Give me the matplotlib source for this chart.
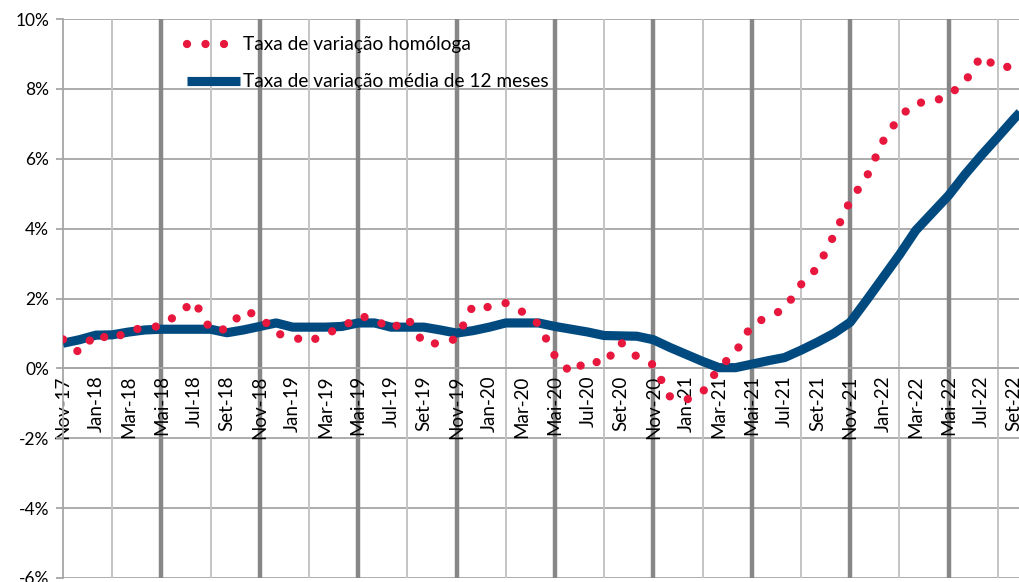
import numpy as np
import matplotlib
matplotlib.use("Agg")
import matplotlib.pyplot as plt

# Dados (%), mensais de Nov-17 a Out-22
meses_pt = ["Jan", "Fev", "Mar", "Abr", "Mai", "Jun",
            "Jul", "Ago", "Set", "Out", "Nov", "Dez"]
inicio_ano, inicio_mes = 2017, 11

homologa = [0.83, 0.45, 1.00, 0.80, 1.10, 1.15, 1.22, 1.55, 1.93, 1.10,
            1.12, 1.65, 1.50, 1.00, 0.90, 0.75, 1.00, 1.15, 1.50, 1.42,
            1.10, 1.45, 0.70, 0.72, 0.85, 1.80, 1.75, 1.87, 1.62, 1.27,
            0.35, -0.14, 0.25, 0.12, 0.75, 0.33, 0.10, -0.80, -0.90, -0.68,
            0.02, 0.45, 1.25, 1.48, 1.70, 2.40, 2.88, 3.80, 4.80, 5.48,
            6.50, 7.20, 7.60, 7.62, 7.82, 8.20, 8.95, 8.60, 8.65, 8.70]

media12 = [0.72, 0.82, 0.95, 0.96, 1.04, 1.10, 1.12, 1.12, 1.12, 1.12,
           1.02, 1.10, 1.20, 1.30, 1.18, 1.18, 1.18, 1.20, 1.30, 1.30,
           1.18, 1.18, 1.18, 1.10, 1.01, 1.08, 1.18, 1.30, 1.30, 1.30,
           1.20, 1.12, 1.04, 0.94, 0.93, 0.92, 0.82, 0.60, 0.40, 0.20,
           0.02, 0.02, 0.12, 0.22, 0.31, 0.52, 0.75, 1.00, 1.32, 1.95,
           2.60, 3.25, 3.95, 4.45, 4.95, 5.55, 6.10, 6.62, 7.15, 7.65]

n = len(homologa)
rotulos = []
for k in range(n):
    m = (inicio_mes - 1 + k) % 12
    a = inicio_ano + (inicio_mes - 1 + k) // 12
    rotulos.append(f"{meses_pt[m]}-{a % 100:02d}")
x = np.arange(n)

plt.rcParams['font.family'] = ['Lato', 'DejaVu Sans']

fig = plt.figure(figsize=(10.19, 5.82), dpi=100)
ax = fig.add_axes([63/1019, 4/582, 1 - 63/1019, 559/582])

vermelho = '#E8173D'
azul = '#004A80'

# grelha
for v in np.arange(-6, 11, 2):
    ax.axhline(v, color='#A6A6A6', lw=1.3, zorder=1)
for k in range(3, 60, 3):
    if k % 6 == 0:
        ax.axvline(k, color='#878787', lw=3.2, zorder=1)
    else:
        ax.axvline(k, color='#C4C4C4', lw=1.4, zorder=1)

ax.plot(x, media12, color=azul, lw=6.6, solid_joinstyle='round',
        solid_capstyle='butt', zorder=3,
        label='Taxa de variação média de 12 meses')
ax.plot(x, homologa, color=vermelho, lw=6.0, linestyle=(0, (0.001, 2.22)),
        dash_capstyle='round', zorder=4,
        label='Taxa de variação homóloga')

ax.set_xlim(0, (1019 - 63) / 16.4)
ax.set_ylim(-6, 10)

for s in ['top', 'right']:
    ax.spines[s].set_visible(False)
ax.spines['left'].set_color('#A6A6A6')
ax.spines['left'].set_linewidth(1.3)
ax.spines['bottom'].set_position(('data', 0))
ax.spines['bottom'].set_color('#A6A6A6')
ax.spines['bottom'].set_linewidth(1.3)

ax.set_yticks(np.arange(-6, 11, 2))
ax.set_yticklabels([f"{v:d}%" for v in range(-6, 11, 2)], fontsize=12.5)
ax.tick_params(axis='y', length=5, color='#A6A6A6', width=1.3, pad=5)

ax.set_xticks(x[::2])
ax.set_xticklabels(rotulos[::2], rotation=90, fontsize=13.5, va='top', ha='center')
ax.tick_params(axis='x', length=0, pad=5)

h, l = ax.get_legend_handles_labels()
leg = ax.legend([h[1], h[0]], [l[1], l[0]], loc='upper left',
                bbox_to_anchor=(107/956, 1.0), frameon=False, fontsize=13.8,
                handlelength=2.76, handletextpad=0.15, labelspacing=1.05,
                borderaxespad=0.5)

fig.savefig('out.png', dpi=100)
